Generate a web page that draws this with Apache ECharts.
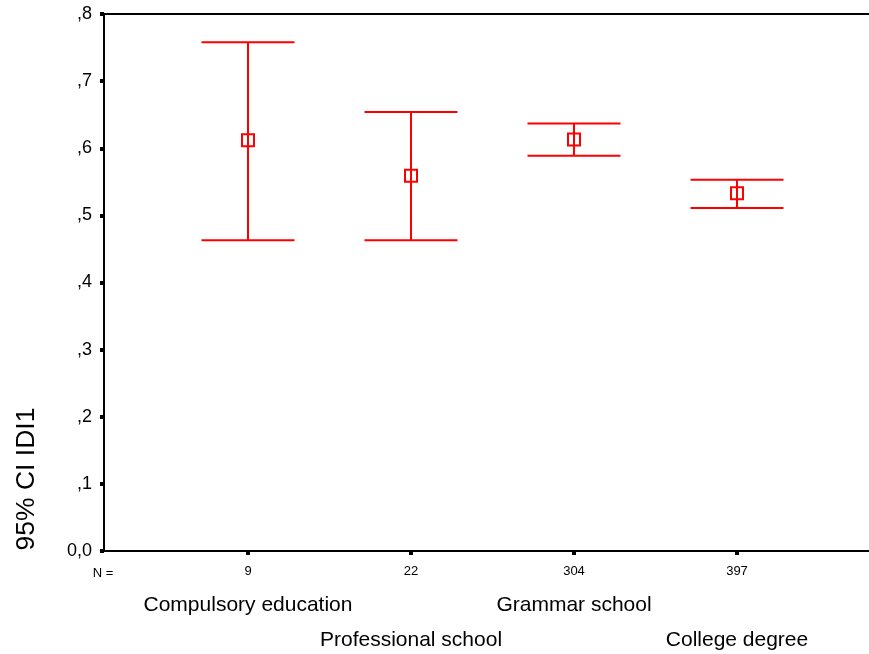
<!DOCTYPE html>
<html>
<head>
<meta charset="utf-8">
<script src="https://cdn.jsdelivr.net/npm/echarts@6/dist/echarts.min.js"></script>
<style>html,body{margin:0;padding:0;background:#fff;}#c{width:869px;height:654px;}</style>
</head>
<body>
<div id="c"></div>
<script>
const categories = ['Compulsory education', 'Professional school', 'Grammar school', 'College degree'];
const nValues = [9, 22, 304, 397];
const means = [0.612, 0.559, 0.613, 0.533];
const lower = [0.463, 0.463, 0.589, 0.511];
const upper = [0.758, 0.654, 0.637, 0.553];
const yTicks = [0, 0.1, 0.2, 0.3, 0.4, 0.5, 0.6, 0.7, 0.8];

const FONT = '"Liberation Sans", Arial, sans-serif';
const chart = echarts.init(document.getElementById('c'), null, {renderer: 'canvas'});

const data = categories.map((c, i) => [i, means[i], lower[i], upper[i]]);

const option = {
  animation: false,
  backgroundColor: '#fff',
  textStyle: {fontFamily: FONT},
  grid: [
    {left: 104, right: 0, top: 14, bottom: 103},
    {left: 166.5, width: 652, top: 14, bottom: 103}
  ],
  xAxis: [
    {gridIndex: 0, type: 'value', min: 0, max: 1, position: 'bottom',
     axisLine: {show: true, lineStyle: {color: '#000', width: 2}},
     axisTick: {show: false}, axisLabel: {show: false}, splitLine: {show: false}},
    {gridIndex: 0, type: 'value', min: 0, max: 1, position: 'top',
     axisLine: {show: true, lineStyle: {color: '#000', width: 2}},
     axisTick: {show: false}, axisLabel: {show: false}, splitLine: {show: false}},
    {gridIndex: 1, type: 'category', data: categories, position: 'bottom',
     axisLine: {show: false},
     axisTick: {show: true, alignWithLabel: true, length: 4, lineStyle: {color: '#000', width: 4}},
     axisLabel: {show: true, interval: 0, margin: 14, fontSize: 13, color: '#000', fontFamily: FONT,
       formatter: (v, i) => String(nValues[i])},
     splitLine: {show: false}},
    {gridIndex: 1, type: 'category', data: categories, position: 'bottom',
     axisLine: {show: false}, axisTick: {show: false},
     axisLabel: {show: true, interval: (i) => i % 2 === 0, margin: 44, fontSize: 21, color: '#000', fontFamily: FONT},
     splitLine: {show: false}},
    {gridIndex: 1, type: 'category', data: categories, position: 'bottom',
     axisLine: {show: false}, axisTick: {show: false},
     axisLabel: {show: true, interval: (i) => i % 2 === 1, margin: 79, fontSize: 21, color: '#000', fontFamily: FONT},
     splitLine: {show: false}}
  ],
  yAxis: [
    {gridIndex: 0, type: 'value', min: 0, max: 0.8, interval: 0.1,
     axisLine: {show: true, lineStyle: {color: '#000', width: 2}},
     axisTick: {show: true, length: 4, lineStyle: {color: '#000', width: 4}},
     axisLabel: {show: true, margin: 12, fontSize: 18, color: '#000', fontFamily: FONT,
       formatter: (v) => v === 0 ? '0,0' : ',' + Math.round(v * 10)},
     splitLine: {show: false}},
    {gridIndex: 1, type: 'value', min: 0, max: 0.8, interval: 0.1, show: false}
  ],
  graphic: [
    {type: 'text', x: 27, y: 479, rotation: Math.PI / 2,
     style: {text: '95% CI IDI1', fontSize: 26.5, fontFamily: FONT, fill: '#000', align: 'center', verticalAlign: 'middle'}},
    {type: 'text', x: 103, y: 573,
     style: {text: 'N =', fontSize: 13, fontFamily: FONT, fill: '#000', align: 'center', verticalAlign: 'middle'}}
  ],
  series: [{
    type: 'custom',
    xAxisIndex: 2,
    yAxisIndex: 1,
    data: data,
    encode: {x: 0, y: [1, 2, 3]},
    renderItem: function (params, api) {
      const xi = api.value(0);
      const pm = api.coord([xi, api.value(1)]);
      const pl = api.coord([xi, api.value(2)]);
      const pu = api.coord([xi, api.value(3)]);
      const half = 46.5;
      const box = 6;
      const style = {stroke: '#ff0000', lineWidth: 2, fill: null};
      return {
        type: 'group',
        children: [
          {type: 'line', shape: {x1: pu[0], y1: pu[1], x2: pl[0], y2: pl[1]}, style: style},
          {type: 'line', shape: {x1: pu[0] - half, y1: pu[1], x2: pu[0] + half, y2: pu[1]}, style: style},
          {type: 'line', shape: {x1: pl[0] - half, y1: pl[1], x2: pl[0] + half, y2: pl[1]}, style: style},
          {type: 'rect', shape: {x: pm[0] - box, y: pm[1] - box, width: box * 2, height: box * 2}, style: style}
        ]
      };
    }
  }]
};
chart.setOption(option);
</script>
</body>
</html>
